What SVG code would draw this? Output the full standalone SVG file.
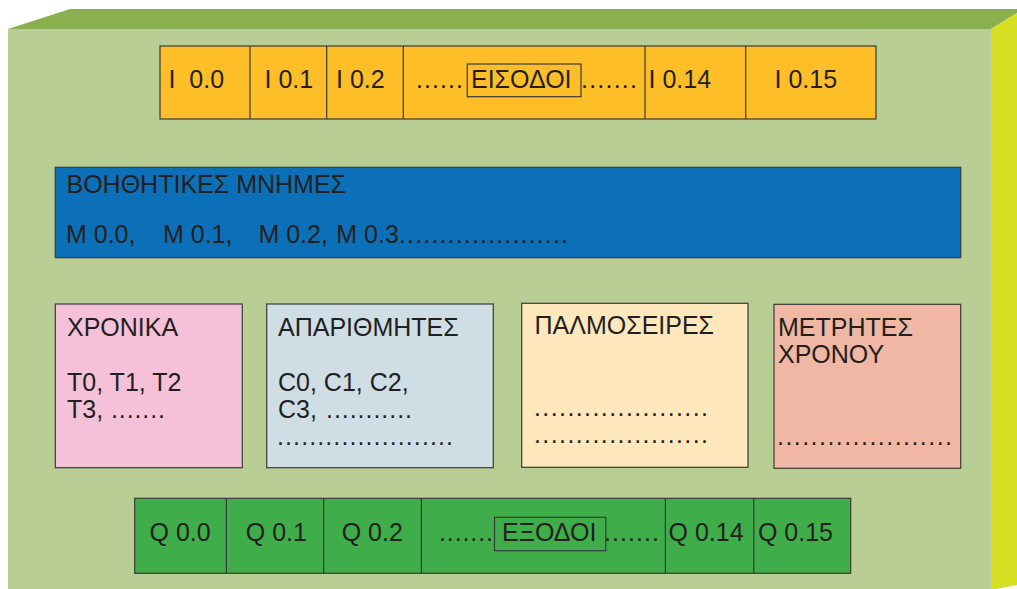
<svg xmlns="http://www.w3.org/2000/svg" width="1017" height="589" viewBox="0 0 1017 589">
<style>
text{font-family:"Liberation Sans",Arial,sans-serif;font-size:25px;fill:#231f20}
.cell{stroke:#3a3a3a;stroke-width:1.2}
.lbl{fill:none;stroke:#3a3a3a;stroke-width:1.2}
</style>
<rect width="1017" height="589" fill="#ffffff"/>
<g id="box3d">
<rect x="8" y="29" width="983" height="560" fill="#b8ce94"/>
<polygon points="8,29 70,9 1017,9 1017,13 991,29" fill="#89af4f"/>
<polygon points="991,29 1017,13 1017,585 996,589 991,589" fill="#d6df21"/>
</g>
<g id="inputs">
<rect class="cell" x="160" y="46" width="716" height="73" fill="#fdbe27"/>
<path class="cell" d="M250,46V119M326.7,46V119M403.3,46V119M645,46V119M745.7,46V119" fill="none"/>
<text x="168.5" y="88" xml:space="preserve">I  0.0</text>
<text x="264.5" y="88">I 0.1</text>
<text x="336" y="88">I 0.2</text>
<text x="416" y="88" textLength="47" lengthAdjust="spacing">......</text>
<rect class="lbl" x="467.3" y="64" width="113.7" height="32.7"/>
<text x="471" y="88">ΕΙΣΟΔΟΙ</text>
<text x="581" y="88" textLength="56" lengthAdjust="spacing">.......</text>
<text x="648.5" y="88">I 0.14</text>
<text x="774.5" y="88">I 0.15</text>
</g>
<g id="memories">
<rect class="cell" x="55.3" y="167.3" width="905.4" height="90.4" fill="#0c70b8"/>
<text x="66.5" y="193.3">ΒΟΗΘΗΤΙΚΕΣ ΜΝΗΜΕΣ</text>
<text x="66" y="242.7">M 0.0,</text>
<text x="163" y="242.7">M 0.1,</text>
<text x="258.4" y="242.7">M 0.2,</text>
<text x="336.3" y="242.7">M 0.3</text>
<text x="399" y="242.7" textLength="169" lengthAdjust="spacing">.....................</text>
</g>
<g id="timers">
<rect class="cell" x="55.3" y="304" width="187" height="163.7" fill="#f5c1d9"/>
<text x="67" y="336">ΧΡΟΝΙΚΑ</text>
<text x="67" y="391">T0, T1, T2</text>
<text x="67" y="417.7">T3,</text>
<text x="111" y="417.7" textLength="54" lengthAdjust="spacing">.......</text>
</g>
<g id="counters">
<rect class="cell" x="266.7" y="304" width="226.6" height="163.7" fill="#cfdde4"/>
<text x="278" y="336">ΑΠΑΡΙΘΜΗΤΕΣ</text>
<text x="278" y="391">C0, C1, C2,</text>
<text x="278" y="417.7">C3,</text>
<text x="326" y="417.7" textLength="86" lengthAdjust="spacing">...........</text>
<text x="277" y="445" textLength="176" lengthAdjust="spacing">......................</text>
</g>
<g id="pulse">
<rect class="cell" x="521.7" y="303.3" width="226.3" height="164" fill="#fee7bd"/>
<text x="534.5" y="334.3">ΠΑΛΜΟΣΕΙΡΕΣ</text>
<text x="534" y="415.7" textLength="174" lengthAdjust="spacing">.....................</text>
<text x="534" y="442.7" textLength="174" lengthAdjust="spacing">.....................</text>
</g>
<g id="timecounters">
<rect class="cell" x="774" y="304.3" width="186.7" height="164" fill="#f0b8a4"/>
<text x="778" y="335.7">ΜΕΤΡΗΤΕΣ</text>
<text x="778" y="362.7">ΧΡΟΝΟΥ</text>
<text x="777" y="445" textLength="175" lengthAdjust="spacing">.....................</text>
</g>
<g id="outputs">
<rect class="cell" x="134.7" y="498.3" width="716" height="75" fill="#3fad49"/>
<path class="cell" d="M226.4,498.3V573.3M323.7,498.3V573.3M421.4,498.3V573.3M665.4,498.3V573.3M753.8,498.3V573.3" fill="none"/>
<text x="149.5" y="541">Q 0.0</text>
<text x="245.8" y="541">Q 0.1</text>
<text x="341.7" y="541">Q 0.2</text>
<text x="439" y="541" textLength="54" lengthAdjust="spacing">.......</text>
<rect class="lbl" x="494.5" y="517.3" width="111.3" height="33.4"/>
<text x="502" y="541">ΕΞΟΔΟΙ</text>
<text x="604" y="541" textLength="55" lengthAdjust="spacing">.......</text>
<text x="668.5" y="541">Q 0.14</text>
<text x="757.9" y="541">Q 0.15</text>
</g>
<g id="connectors"/>
</svg>
